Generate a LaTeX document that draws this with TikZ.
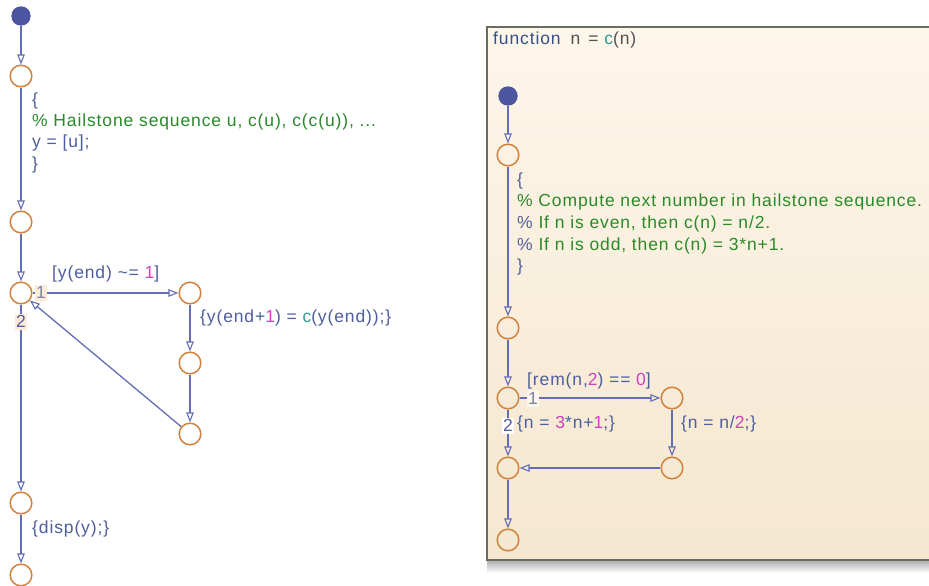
\documentclass[tikz,border=0pt]{standalone}
\usepackage{fontspec}
\setmainfont{Liberation Sans}[LetterSpace=5]
\usetikzlibrary{arrows.meta}
\definecolor{linecol}{HTML}{646EB4}
\definecolor{junccol}{HTML}{D2823C}
\definecolor{dotcol}{HTML}{4B55A0}
\definecolor{txtcol}{HTML}{4F5E9E}
\definecolor{cmtcol}{HTML}{2A8A2A}
\definecolor{numcol}{HTML}{D040C0}
\definecolor{fncol}{HTML}{2F9A95}
\definecolor{lblcol}{HTML}{7C84A8}
\definecolor{lblbg}{HTML}{FCEBD5}
\definecolor{kwcol}{HTML}{35508A}
\definecolor{darkcol}{HTML}{505050}
\definecolor{boxtop}{HTML}{FDF6EA}
\definecolor{boxbot}{HTML}{F5E7CF}
\definecolor{boxborder}{HTML}{6B6B60}
\begin{document}
\begin{tikzpicture}[x=1pt,y=-1pt,
  junc/.style={circle, draw=junccol, line width=1.5pt, minimum size=21.6pt, inner sep=0pt},
  dflt/.style={circle, fill=dotcol, minimum size=19.4pt, inner sep=0pt},
  tr/.style={draw=linecol, line width=1.3pt, -{Triangle[open,length=10pt,width=7.5pt,line width=1.1pt]}},
  txt/.style={font=\fontsize{17.5}{21}\selectfont, text=txtcol, inner sep=0pt, anchor=west, text height=12pt, text depth=3.5pt},
  numlbl/.style={font=\fontsize{17.5}{21}\selectfont, text=lblcol, inner sep=1pt, fill=lblbg, text height=12pt, text depth=2pt}
]
\useasboundingbox (0,0) rectangle (929,586);
\fill[white] (0,0) rectangle (929,586);

% right box with shadow
\shade[top color=black!30, bottom color=white] (487,561) rectangle (940,573);
\shade[top color=boxtop, bottom color=boxbot] (487,27) rectangle (940,560);
\draw[boxborder, line width=2pt] (940,27) -- (487,27) -- (487,560) -- (940,560);

% ---------- left chart ----------
\node[dflt] (d1) at (21,16) {};
\node[junc] (j1) at (21,76) {};
\node[junc] (j2) at (21,222) {};
\node[junc] (j3) at (21,293) {};
\node[junc] (j4) at (190,293) {};
\node[junc] (j5) at (190,363) {};
\node[junc] (j6) at (190,434) {};
\node[junc] (j7) at (21,503) {};
\node[junc] (j8) at (21,575) {};

\draw[tr] (d1) -- (j1);
\draw[tr] (j1) -- (j2);
\draw[tr] (j2) -- (j3);
\draw[tr] (j3) -- (j4);
\draw[tr] (j4) -- (j5);
\draw[tr] (j5) -- (j6);
\draw[tr] (j6) -- (j3);
\draw[tr] (j3) -- (j7);
\draw[tr] (j7) -- (j8);

\node[numlbl] (l1) at (41,293) {1};
\node[numlbl, text=txtcol] (l2) at (21,322) {2};

\node[txt] (ta1) at (32,101) {\{};
\node[txt] (ta2) at (32,122) {\textcolor{cmtcol}{\% Hailstone sequence u, c(u), c(c(u)), ...}};
\node[txt] (ta3) at (32,143) {y = [u];};
\node[txt] (ta4) at (32,165) {\}};
\node[txt] (tb) at (52,274) {[y(end) \textasciitilde= \textcolor{numcol}{1}]};
\node[txt] (tc) at (200,318) {\{y(end+\textcolor{numcol}{1}) = \textcolor{fncol}{c}(y(end));\}};
\node[txt] (td) at (32,529) {\{disp(y);\}};

% ---------- right chart ----------
\node[txt, text=darkcol] (fn) at (493,40) {\textcolor{kwcol}{function}\hspace{10pt}n\hspace{8pt}= \textcolor{fncol}{c}(n)};

\node[dflt] (e1) at (508,96) {};
\node[junc] (k1) at (508,155) {};
\node[junc] (k2) at (508,328) {};
\node[junc] (k3) at (508,398) {};
\node[junc] (k4) at (672,398) {};
\node[junc] (k5) at (672,468) {};
\node[junc] (k6) at (508,468) {};
\node[junc] (k7) at (508,540) {};

\draw[tr] (e1) -- (k1);
\draw[tr] (k1) -- (k2);
\draw[tr] (k2) -- (k3);
\draw[tr] (k3) -- (k4);
\draw[tr] (k4) -- (k5);
\draw[tr] (k5) -- (k6);
\draw[tr] (k3) -- (k6);
\draw[tr] (k6) -- (k7);

\node[numlbl, fill=boxtop] (m1) at (533,399) {1};
\node[numlbl, fill=white, text=txtcol] (m2) at (508,426) {2};

\node[txt] (ra1) at (517,181) {\{};
\node[txt] (ra2) at (517,202) {\textcolor{cmtcol}{\% Compute next number in hailstone sequence.}};
\node[txt] (ra3) at (517,224) {\% \textcolor{cmtcol}{If n is even, then c(n) = n/2.}};
\node[txt] (ra4) at (517,246) {\% \textcolor{cmtcol}{If n is odd, then c(n) = 3*n+1.}};
\node[txt] (ra5) at (517,267) {\}};
\node[txt] (rb) at (527,381) {[rem(n,\textcolor{numcol}{2}) == \textcolor{numcol}{0}]};
\node[txt] (rc) at (517,424) {\{n = \textcolor{numcol}{3}*n+\textcolor{numcol}{1};\}};
\node[txt] (rd) at (681,424) {\{n = n/\textcolor{numcol}{2};\}};
\end{tikzpicture}
\end{document}
